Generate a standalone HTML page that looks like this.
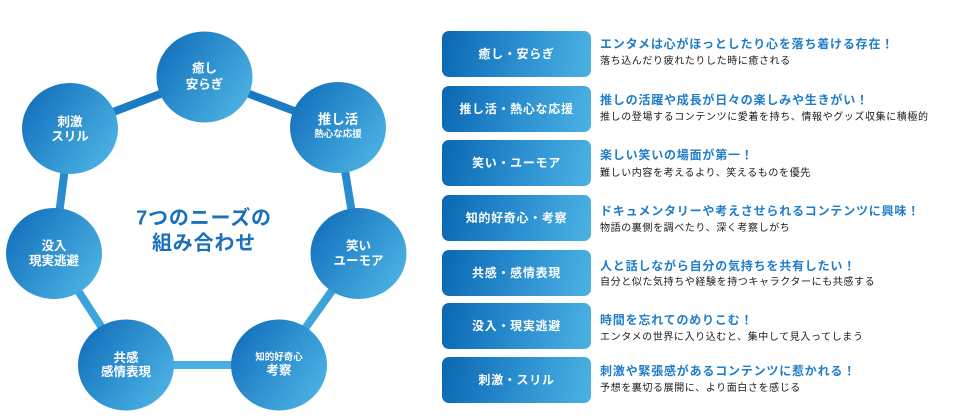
<!DOCTYPE html>
<html><head><meta charset="utf-8"><style>
html,body{margin:0;padding:0;background:#fff;}
body{width:957px;height:420px;position:relative;overflow:hidden;font-family:"Liberation Sans","Noto Sans CJK JP",sans-serif;}
.box{position:absolute;left:442px;width:149px;height:46px;border-radius:7px;background:linear-gradient(100deg,#0b67b3 0%,#2a8dcf 50%,#4cb2e3 100%);color:#fff;font-weight:bold;font-size:12px;letter-spacing:0.7px;text-align:center;line-height:46px;}
.t{position:absolute;left:600px;font-weight:bold;font-size:12px;letter-spacing:0.8px;color:#1f7dca;line-height:16px;white-space:nowrap;}
.s{position:absolute;left:600px;font-size:10px;letter-spacing:0.6px;color:#1a1a1a;line-height:14px;white-space:nowrap;}
svg{position:absolute;left:0;top:0;}
</style></head><body>
<svg width="420" height="420" viewBox="0 0 420 420" font-family="Liberation Sans, Noto Sans CJK JP, sans-serif">
<defs>
<linearGradient id="lg" gradientUnits="userSpaceOnUse" x1="0" y1="70" x2="0" y2="370">
<stop offset="0" stop-color="#1474c0"/><stop offset="1" stop-color="#48b0e2"/>
</linearGradient>
<linearGradient id="cg" x1="0.05" y1="0.2" x2="0.95" y2="0.8">
<stop offset="0" stop-color="#1572be"/><stop offset="1" stop-color="#4bb2e3"/>
</linearGradient>
</defs>
<polygon points="204.5,77 338,127.5 358.5,253.5 279,365 126,365 54,253.5 70,128.5" fill="none" stroke="url(#lg)" stroke-width="8" stroke-linejoin="round"/>
<g fill="url(#cg)">
<ellipse cx="204.5" cy="77" rx="48" ry="45.5"/>
<ellipse cx="338" cy="127.5" rx="48" ry="45.5"/>
<ellipse cx="358.5" cy="253.5" rx="48" ry="45.5"/>
<ellipse cx="279" cy="365" rx="48" ry="45.5"/>
<ellipse cx="126" cy="365" rx="48" ry="45.5"/>
<ellipse cx="54" cy="253.5" rx="48" ry="45.5"/>
<ellipse cx="70" cy="128.5" rx="48" ry="45.5"/>
</g>
<g fill="#fff" font-weight="bold" text-anchor="middle" dominant-baseline="central" font-size="12.5">
<text x="204.5" y="68.5">癒し</text><text x="204.5" y="84.5">安らぎ</text>
<text x="338" y="119.5" font-size="13.5">推し活</text><text x="338" y="134.5" font-size="9.5">熱心な応援</text>
<text x="358.5" y="246">笑い</text><text x="358.5" y="261">ユーモア</text>
<text x="279" y="357.5" font-size="9.5">知的好奇心</text><text x="279" y="370.5">考察</text>
<text x="126" y="358">共感</text><text x="126" y="372">感情表現</text>
<text x="54" y="246">没入</text><text x="54" y="261">現実逃避</text>
<text x="70" y="122">刺激</text><text x="70" y="136.5">スリル</text>
</g>
<g fill="#1b70bd" font-weight="bold" text-anchor="middle" dominant-baseline="central" font-size="20" letter-spacing="0.8">
<text x="204" y="218.5">7つのニーズの</text>
<text x="204" y="243.5">組み合わせ</text>
</g>
</svg>

<div class="box" style="top:31px;">癒し・安らぎ</div>
<div class="box" style="top:86px;">推し活・熱心な応援</div>
<div class="box" style="top:140px;">笑い・ユーモア</div>
<div class="box" style="top:195px;">知的好奇心・考察</div>
<div class="box" style="top:250px;">共感・感情表現</div>
<div class="box" style="top:303px;">没入・現実逃避</div>
<div class="box" style="top:357px;">刺激・スリル</div>

<div class="t" style="top:35.5px;">エンタメは心がほっとしたり心を落ち着ける存在！</div>
<div class="s" style="top:55px;">落ち込んだり疲れたりした時に癒される</div>
<div class="t" style="top:91.5px;">推しの活躍や成長が日々の楽しみや生きがい！</div>
<div class="s" style="top:110.5px;">推しの登場するコンテンツに愛着を持ち、情報やグッズ収集に積極的</div>
<div class="t" style="top:147px;">楽しい笑いの場面が第一！</div>
<div class="s" style="top:167px;">難しい内容を考えるより、笑えるものを優先</div>
<div class="t" style="top:203px;">ドキュメンタリーや考えさせられるコンテンツに興味！</div>
<div class="s" style="top:222px;">物語の裏側を調べたり、深く考察しがち</div>
<div class="t" style="top:257.5px;">人と話しながら自分の気持ちを共有したい！</div>
<div class="s" style="top:276px;">自分と似た気持ちや経験を持つキャラクターにも共感する</div>
<div class="t" style="top:312px;">時間を忘れてのめりこむ！</div>
<div class="s" style="top:331px;">エンタメの世界に入り込むと、集中して見入ってしまう</div>
<div class="t" style="top:363px;">刺激や緊張感があるコンテンツに惹かれる！</div>
<div class="s" style="top:382px;">予想を裏切る展開に、より面白さを感じる</div>
</body></html>
